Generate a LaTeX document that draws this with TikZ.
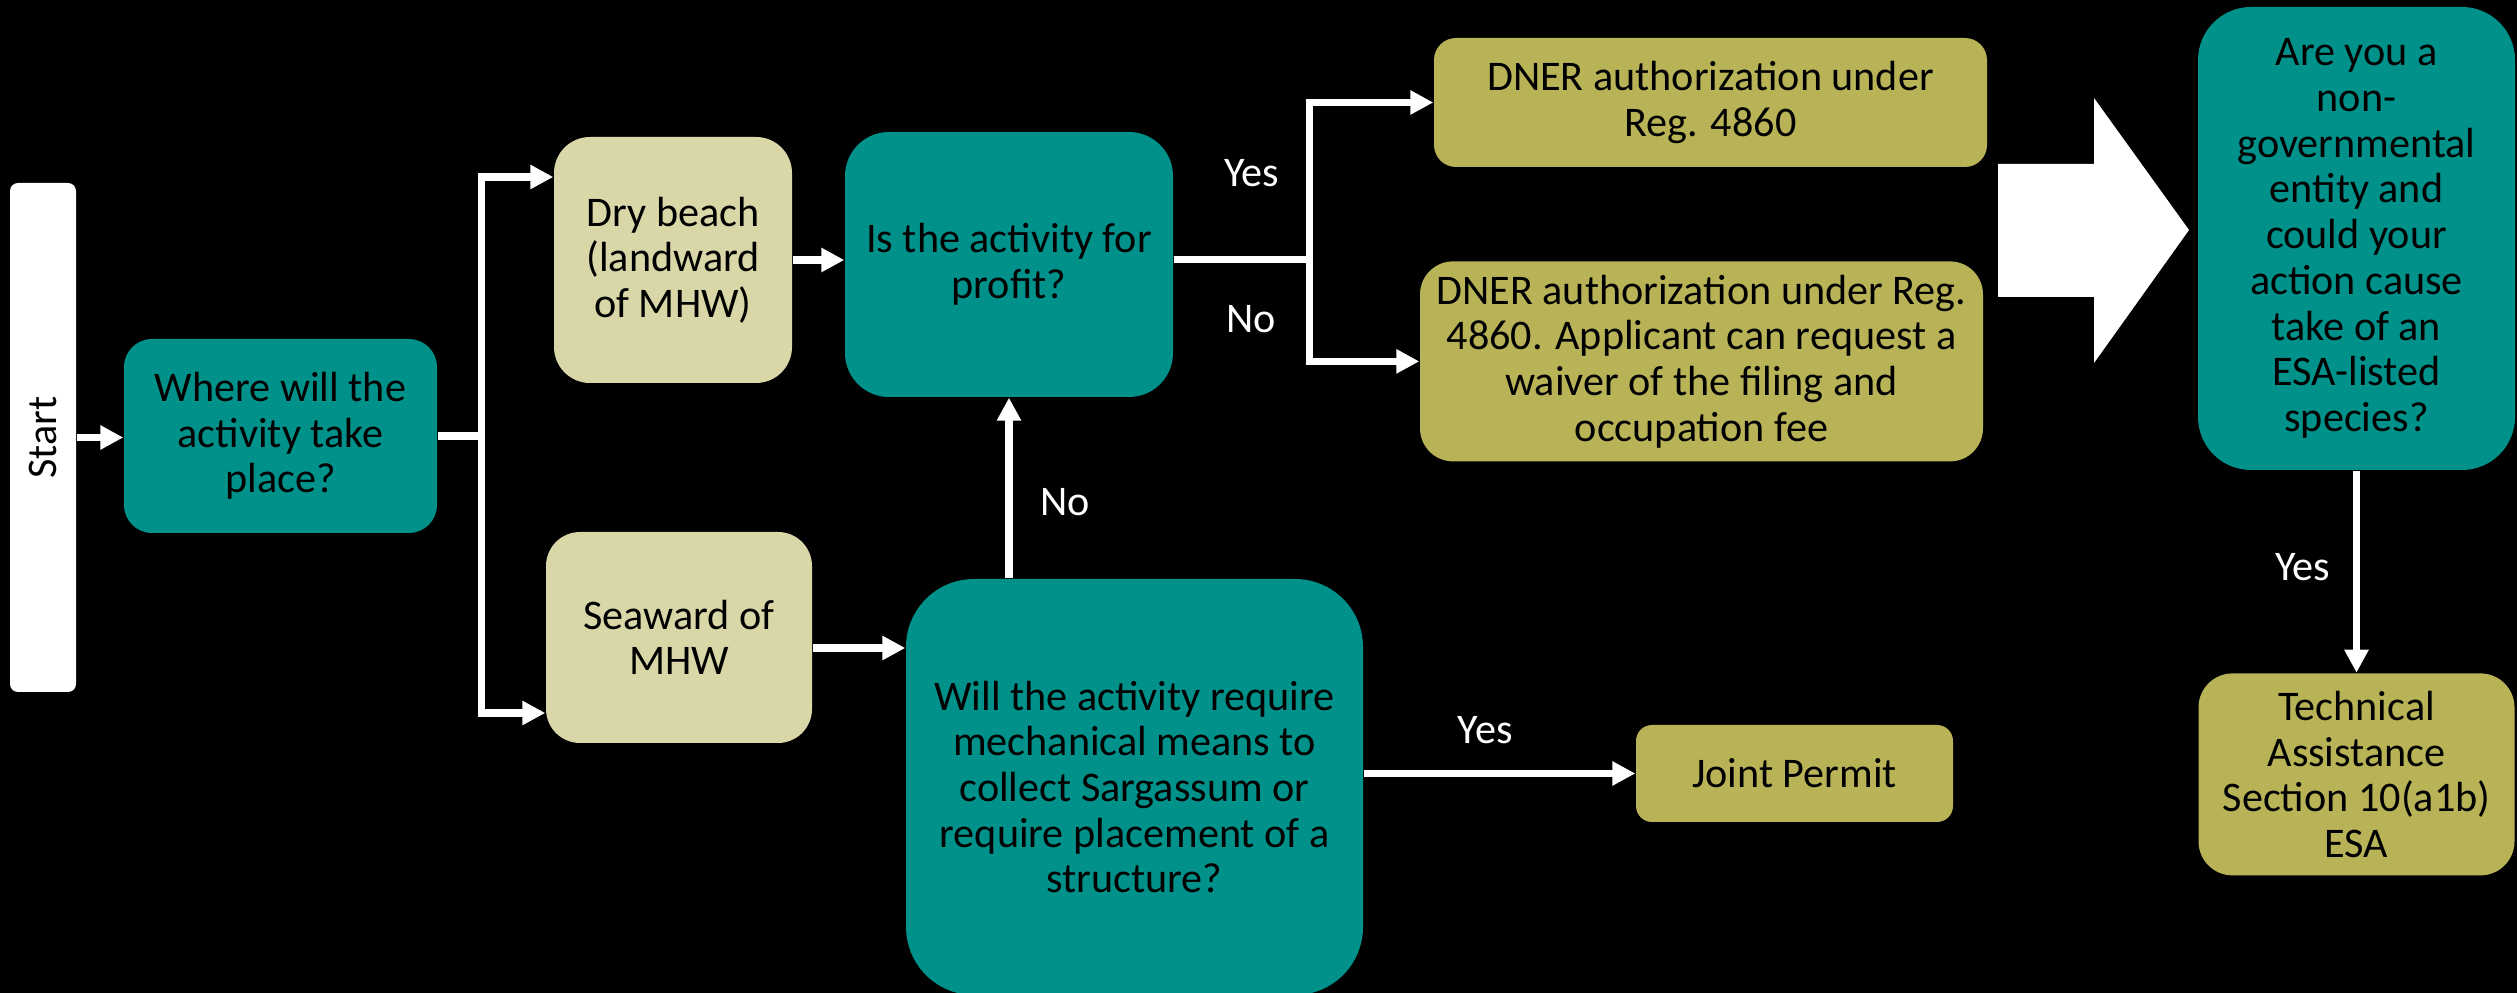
\documentclass[tikz,border=0pt]{standalone}
\usepackage{fontspec}
\setmainfont{Carlito}
\usepackage{xcolor}
\usepackage{tikz}
\usetikzlibrary{arrows.meta, positioning}
\definecolor{qteal}{RGB}{0,145,138}
\definecolor{qsand}{RGB}{217,215,168}
\definecolor{qolive}{RGB}{185,179,88}
\newcommand{\boxfont}{\fontsize{12}{13}\selectfont}

\begin{document}
\begin{tikzpicture}[
  x=0.1mm, y=-0.1mm,
  qbox/.style={rectangle, fill=qteal, text=black, align=center,
               font=\boxfont, inner sep=2pt},
  sitebox/.style={qbox, fill=qsand},
  okbox/.style={qbox, fill=qolive},
  arr/.style={-{Triangle[length=2.3mm,width=2.3mm]}, line width=0.75mm, white},
  lbl/.style={text=white, font=\boxfont},
]

\fill[black] (0,0) rectangle (2517,993);
\useasboundingbox (0,0) rectangle (2517,993);

\node[rectangle, fill=white, rounded corners=0.8mm, minimum width=50.9mm,
      minimum height=6.6mm, rotate=90, font=\boxfont] (start) at (43,437.5) {Start};

\node[qbox, minimum width=31.3mm, minimum height=19.4mm, rounded corners=2.8mm]
  (where) at (280.5,436) {Where will the\\activity take\\place?};
\node[sitebox, minimum width=23.8mm, minimum height=24.6mm, rounded corners=3.6mm]
  (dry) at (673,260) {Dry beach\\(landward\\of MHW)};
\node[sitebox, minimum width=26.6mm, minimum height=21.1mm, rounded corners=3.4mm]
  (sea) at (679,637.5) {Seaward of\\MHW};
\node[qbox, minimum width=32.8mm, minimum height=26.5mm, rounded corners=4.4mm]
  (profit) at (1009,264.5) {Is the activity for\\profit?};
\node[qbox, minimum width=45.7mm, minimum height=41.6mm, rounded corners=6.8mm]
  (mech) at (1134.5,787) {Will the activity require\\mechanical means to\\collect Sargassum or\\require placement of a\\structure?};
\node[okbox, minimum width=31.7mm, minimum height=9.7mm, rounded corners=1.6mm]
  (joint) at (1794.5,773.5) {Joint Permit};
\node[okbox, minimum width=55.3mm, minimum height=12.9mm, rounded corners=2.2mm]
  (dnerfee) at (1710.5,102.5) {DNER authorization under\\Reg. 4860};
\node[okbox, minimum width=56.3mm, minimum height=20mm, rounded corners=3.3mm,
      below=9.3mm of dnerfee, xshift=-0.9mm]
  (dnerwaiver) {DNER authorization under Reg.\\4860. Applicant can request a\\waiver of the filing and\\occupation fee};
\node[qbox, minimum width=31.7mm, minimum height=46.3mm, rounded corners=5.3mm]
  (esa) at (2356.5,238.5) {Are you a\\non-\\governmental\\entity and\\could your\\action cause\\take of an\\ESA-listed\\species?};
\node[okbox, minimum width=31.6mm, minimum height=20.2mm, rounded corners=3.4mm,
      below=20.2mm of esa] (tech) {Technical\\Assistance\\Section 10(a1b)\\ESA};

% block arrow towards the ESA question
\fill[white] (1998,164) -- (2094,164) -- (2094,98) -- (2189,230)
  -- (2094,363) -- (2094,297) -- (1998,297) -- cycle;

\draw[arr] (start.south) -- (start.south -| where.west);
\draw[arr] (where.east) -- ++(44,0) |- ([yshift=8.3mm]dry.west);
\draw[arr] (where.east) -- ++(44,0) |- ([yshift=-7.55mm]sea.west);
\draw[arr] (dry.east) -- (dry.east -| profit.west);
\draw[arr] ([yshift=-1.05mm]sea.east) -- ([yshift=-1.05mm]sea.east -| mech.west);
\draw[arr] (profit.south |- mech.north) -- (profit.south)
  node[lbl, midway, right=1.6mm, yshift=-1.4mm] {No};
\draw[arr] ([yshift=0.5mm]profit.east) -- ++(136,0)
  |- node[lbl, pos=0.25, left=1.5mm, yshift=0.8mm] {Yes} (dnerfee.west);
\draw[arr] ([yshift=0.5mm]profit.east) -- ++(136,0)
  |- node[lbl, pos=0.25, left=1.85mm, yshift=-0.9mm] {No} (dnerwaiver.west);
\draw[arr] (mech.east |- joint.west) -- (joint.west)
  node[lbl, midway, above=1.45mm, xshift=-1.45mm] {Yes};
\draw[arr] (esa) -- (tech) node[lbl, midway, left=1.1mm, yshift=0.5mm] {Yes};

\end{tikzpicture}
\end{document}
